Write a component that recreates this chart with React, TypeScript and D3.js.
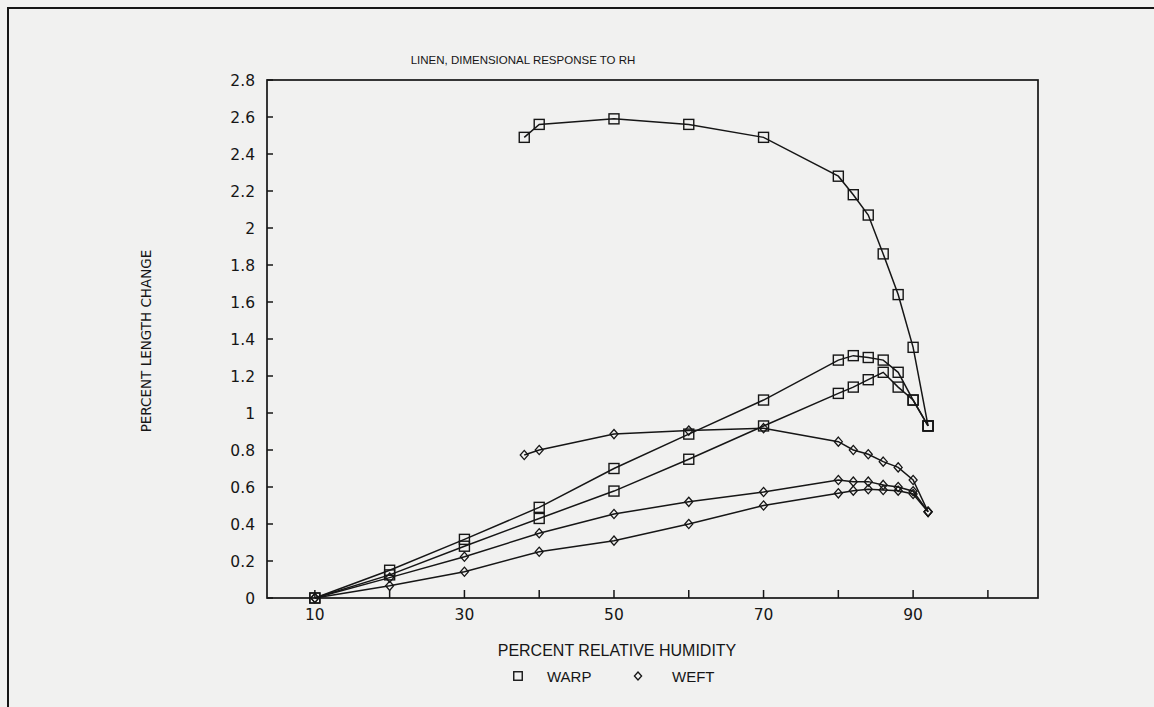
import React from "react";
import * as d3 from "d3";

// Relative humidity steps (percent)
const rhAdsorption = [10, 20, 30, 40, 50, 60, 70, 80, 82, 84, 86, 88, 90, 92];
const rhDesorption = [38, 40, 50, 60, 70, 80, 82, 84, 86, 88, 90, 92];

// Percent length change, warp direction
const warpDesorption = [2.49, 2.56, 2.59, 2.56, 2.49, 2.28, 2.18, 2.07, 1.86, 1.64, 1.355, 0.93];
const warpHigh = [0, 0.15, 0.317, 0.49, 0.7, 0.886, 1.07, 1.286, 1.31, 1.3, 1.286, 1.22, 1.07, 0.93];
const warpLow = [0, 0.125, 0.28, 0.43, 0.578, 0.75, 0.93, 1.106, 1.14, 1.18, 1.22, 1.14, 1.07, 0.93];

// Percent length change, weft direction
const weftDesorption = [0.773, 0.8, 0.886, 0.905, 0.918, 0.845, 0.8, 0.777, 0.737, 0.706, 0.638, 0.466];
const weftHigh = [0, 0.11, 0.223, 0.35, 0.454, 0.52, 0.573, 0.638, 0.629, 0.629, 0.611, 0.6, 0.577, 0.466];
const weftLow = [0, 0.066, 0.142, 0.25, 0.31, 0.4, 0.5, 0.566, 0.58, 0.588, 0.584, 0.58, 0.562, 0.466];

const xTicks = [10, 20, 30, 40, 50, 60, 70, 80, 90, 100];
const xTickLabels = [10, 30, 50, 70, 90];
const yTicks = [0, 0.2, 0.4, 0.6, 0.8, 1, 1.2, 1.4, 1.6, 1.8, 2, 2.2, 2.4, 2.6, 2.8];

const INK = "#161616";
const FONT = "'Liberation Sans', Arial, sans-serif";
const TICK_FONT = "'DejaVu Sans', 'Noto Sans', sans-serif";

type Pt = [number, number];

const zip = (xs: number[], ys: number[]): Pt[] => xs.map((x, i) => [x, ys[i]]);

export default function App() {
  const left = 267;
  const right = 1038;
  const top = 80;
  const bottom = 598;

  const x = d3.scaleLinear().domain([3.6, 106.7]).range([left, right]);
  const y = d3.scaleLinear().domain([0, 2.8]).range([bottom, top]);

  const line = d3
    .line<Pt>()
    .x((d) => x(d[0]))
    .y((d) => y(d[1]));

  const warpSeries: Pt[][] = [
    zip(rhDesorption, warpDesorption),
    zip(rhAdsorption, warpHigh),
    zip(rhAdsorption, warpLow),
  ];
  const weftSeries: Pt[][] = [
    zip(rhDesorption, weftDesorption),
    zip(rhAdsorption, weftHigh),
    zip(rhAdsorption, weftLow),
  ];

  const sq = 10;
  const square = (cx: number, cy: number, key: string, s = sq) => (
    <rect key={key} x={cx - s / 2} y={cy - s / 2} width={s} height={s} fill="none" stroke={INK} strokeWidth={1.4} />
  );
  const diamond = (cx: number, cy: number, key: string, w = 4, h = 4.6) => (
    <path
      key={key}
      d={`M${cx},${cy - h}L${cx + w},${cy}L${cx},${cy + h}L${cx - w},${cy}Z`}
      fill="none"
      stroke={INK}
      strokeWidth={1.3}
    />
  );

  return (
    <svg width={1154} height={707} style={{ display: "block", position: "absolute", left: 0, top: 0 }}>
      <rect x={0} y={0} width={1154} height={707} fill="#f1f1f0" />
      {/* outer page frame */}
      <rect x={8} y={8} width={1170} height={720} fill="none" stroke={INK} strokeWidth={2} />

      {/* title */}
      <text x={523} y={64} textAnchor="middle" fontFamily={FONT} fontSize={11.5} fill={INK}>
        LINEN, DIMENSIONAL RESPONSE TO RH
      </text>

      {/* plot frame */}
      <rect x={left} y={top} width={right - left} height={bottom - top} fill="none" stroke={INK} strokeWidth={1.7} />

      {/* y axis ticks and labels */}
      {yTicks.map((t) => (
        <g key={`y${t}`}>
          <line x1={left} x2={left + 6} y1={y(t)} y2={y(t)} stroke={INK} strokeWidth={1.5} />
          <text
            x={255}
            y={y(t) + 5.5}
            textAnchor="end"
            fontFamily={TICK_FONT}
            fontSize={15.5}
            fill={INK}
          >
            {d3.format("~g")(t)}
          </text>
        </g>
      ))}

      {/* x axis ticks and labels */}
      {xTicks.map((t) => (
        <line key={`x${t}`} x1={x(t)} x2={x(t)} y1={bottom} y2={bottom - 8} stroke={INK} strokeWidth={1.5} />
      ))}
      {xTickLabels.map((t) => (
        <text key={`xl${t}`} x={x(t)} y={620} textAnchor="middle" fontFamily={TICK_FONT} fontSize={15.5} fill={INK}>
          {t}
        </text>
      ))}

      {/* axis titles */}
      <text
        transform={`translate(151,341) rotate(-90)`}
        textAnchor="middle"
        fontFamily={TICK_FONT}
        fontSize={13.5}
        fill={INK}
      >
        PERCENT LENGTH CHANGE
      </text>
      <text x={617} y={656} textAnchor="middle" fontFamily={FONT} fontSize={16} fill={INK}>
        PERCENT RELATIVE HUMIDITY
      </text>

      {/* curves */}
      {[...warpSeries, ...weftSeries].map((s, i) => (
        <path key={`l${i}`} d={line(s) ?? ""} fill="none" stroke={INK} strokeWidth={1.5} />
      ))}

      {/* markers */}
      {warpSeries.map((s, i) => s.map((d, j) => square(x(d[0]), y(d[1]), `s${i}-${j}`)))}
      {weftSeries.map((s, i) => s.map((d, j) => diamond(x(d[0]), y(d[1]), `d${i}-${j}`)))}

      {/* legend */}
      {square(518, 676, "lg-sq", 8.5)}
      <text x={547} y={681.5} fontFamily={FONT} fontSize={15} fill={INK}>
        WARP
      </text>
      {diamond(638, 676, "lg-di", 3.6, 4)}
      <text x={672} y={681.5} fontFamily={FONT} fontSize={15} fill={INK}>
        WEFT
      </text>
    </svg>
  );
}
